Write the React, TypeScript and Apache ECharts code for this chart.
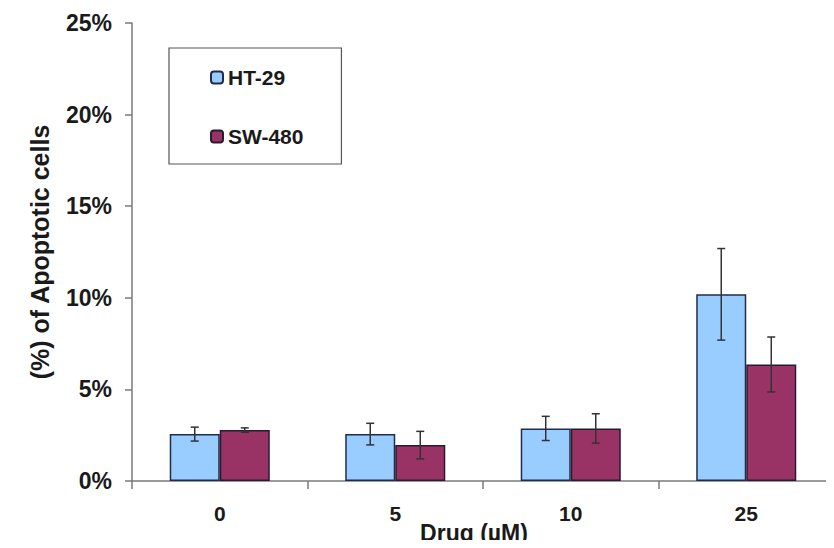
import React, { useEffect, useRef } from "react";
import * as echarts from "echarts";

const categories = ["0", "5", "10", "25"];
const seriesNames = ["HT-29", "SW-480"];
const ht29 = [2.56, 2.56, 2.87, 10.19];
const sw480 = [2.78, 1.96, 2.87, 6.36];
const ht29Err = [0.38, 0.59, 0.66, 2.5];
const sw480Err = [0.12, 0.75, 0.8, 1.5];
const yTicks = [0, 5, 10, 15, 20, 25];

const FONT = "'Liberation Sans', Arial, sans-serif";
const CAT_GAP = 0.43;

function errData(vals: number[], errs: number[]) {
  return vals.map((v, i) => [i, v - errs[i], v + errs[i]]);
}

function makeErrRender(side: number) {
  return (params: any, api: any) => {
    const idx = api.value(0);
    const lo = api.coord([idx, api.value(1)]);
    const hi = api.coord([idx, api.value(2)]);
    const band = api.size([1, 0])[0];
    const barW = (band * (1 - CAT_GAP)) / 2;
    const x = lo[0] + (side * barW) / 2;
    const cap = 4;
    const style = { stroke: "#333333", lineWidth: 1.5 };
    return {
      type: "group",
      children: [
        { type: "line", shape: { x1: x, y1: hi[1], x2: x, y2: lo[1] }, style },
        { type: "line", shape: { x1: x - cap, y1: hi[1], x2: x + cap, y2: hi[1] }, style },
        { type: "line", shape: { x1: x - cap, y1: lo[1], x2: x + cap, y2: lo[1] }, style },
      ],
    };
  };
}

export default function App() {
  const ref = useRef<HTMLDivElement>(null);
  useEffect(() => {
    const chart = echarts.init(ref.current!, undefined, { renderer: "svg" });
    chart.setOption({
      animation: false,
      backgroundColor: "#ffffff",
      grid: { left: 132, top: 23, bottom: 67, right: -10, containLabel: false },
      legend: {
        data: seriesNames,
        orient: "vertical",
        left: 169,
        top: 48,
        itemWidth: 12,
        itemHeight: 12,
        itemGap: 38,
        padding: [19, 38, 17, 41],
        borderColor: "#555555",
        borderWidth: 1.2,
        textStyle: { fontFamily: FONT, fontWeight: "bold", fontSize: 21, color: "#1a1a1a" },
      },
      xAxis: {
        type: "category",
        data: categories,
        axisLine: { lineStyle: { color: "#7a7a7a", width: 1.5 } },
        axisTick: { show: true, length: 8, lineStyle: { color: "#7a7a7a", width: 1.5 } },
        axisLabel: { margin: 22, fontFamily: FONT, fontWeight: "bold", fontSize: 21, color: "#1a1a1a" },
      },
      yAxis: {
        type: "value",
        min: 0,
        max: 25,
        interval: 5,
        name: "(%) of Apoptotic cells",
        nameLocation: "middle",
        nameGap: 80,
        nameTextStyle: { fontFamily: FONT, fontWeight: "bold", fontSize: 25, color: "#1a1a1a" },
        axisLine: { show: true, lineStyle: { color: "#7a7a7a", width: 1.5 } },
        axisTick: { show: true, length: 7, lineStyle: { color: "#7a7a7a", width: 1.5 } },
        splitLine: { show: false },
        axisLabel: {
          margin: 20,
          fontFamily: FONT,
          fontWeight: "bold",
          fontSize: 23,
          color: "#1a1a1a",
          formatter: (v: number) => (yTicks.includes(v) ? `${v}%` : ""),
        },
      },
      graphic: [
        {
          type: "text",
          x: 474,
          y: 533,
          style: {
            text: "Drug (\u00b5M)",
            align: "center",
            verticalAlign: "middle",
            fontFamily: FONT,
            fontWeight: "bold",
            fontSize: 23,
            fill: "#1a1a1a",
          },
        },
      ],
      series: [
        {
          name: seriesNames[0],
          type: "bar",
          data: ht29,
          barGap: "0%",
          barCategoryGap: `${CAT_GAP * 100}%`,
          itemStyle: { color: "#99ccff", borderColor: "#1f2d4a", borderWidth: 1.5 },
        },
        {
          name: seriesNames[1],
          type: "bar",
          data: sw480,
          barGap: "0%",
          barCategoryGap: `${CAT_GAP * 100}%`,
          itemStyle: { color: "#993366", borderColor: "#2a1a30", borderWidth: 1.5 },
        },
        {
          type: "custom",
          data: errData(ht29, ht29Err),
          encode: { x: 0, y: [1, 2] },
          renderItem: makeErrRender(-1),
          z: 5,
          silent: true,
        },
        {
          type: "custom",
          data: errData(sw480, sw480Err),
          encode: { x: 0, y: [1, 2] },
          renderItem: makeErrRender(1),
          z: 5,
          silent: true,
        },
      ],
    });
    return () => chart.dispose();
  }, []);
  return <div ref={ref} style={{ width: 834, height: 548, margin: -8 }} />;
}
